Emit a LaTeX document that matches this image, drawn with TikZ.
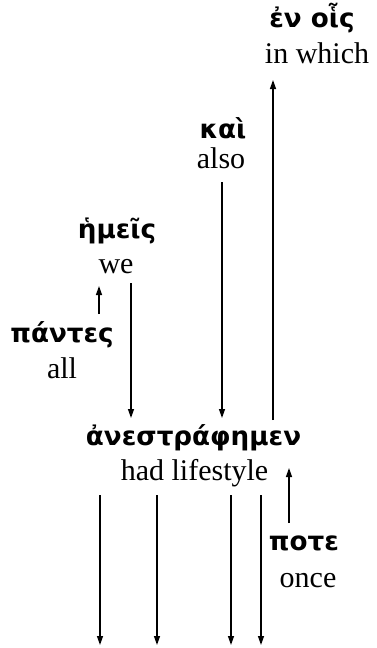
\documentclass[tikz,border=0pt]{standalone}
\usepackage{fontspec}
\setmainfont{Liberation Serif}
\newfontfamily\grfont[Script=Greek]{DejaVu Sans}
\usetikzlibrary{arrows.meta}
\begin{document}
\begin{tikzpicture}[x=1pt,y=1pt,
  gr/.style={inner sep=0pt, anchor=base, font=\grfont\bfseries\fontsize{26.2}{31}\selectfont},
  en/.style={inner sep=0pt, anchor=base, font=\fontsize{30}{36}\selectfont},
  arr/.style={line width=1.3pt, -{Triangle[length=9pt,width=6pt]}}]
\useasboundingbox (0,0) rectangle (376,-648);
% words
\node[gr] (enois) at (312,-27) {ἐν οἷς};
\node[en] (inwhich) at (317,-63) {in which};
\node[gr] (kai) at (223,-138) {καὶ};
\node[en] (also) at (221,-168) {also};
\node[gr] (hmeis) at (117,-238) {ἡμεῖς};
\node[en] (we) at (116,-273) {we};
\node[gr] (pantes) at (62,-342) {πάντες};
\node[en] (all) at (62,-378) {all};
\node[gr] (verb) at (193.5,-445) {ἀνεστράφημεν};
\node[en] (life) at (194.5,-480) {had lifestyle};
\node[gr] (pote) at (304,-550) {ποτε};
\node[en] (once) at (308,-587) {once};
% free ends
\coordinate (b1) at (100,-645);
\coordinate (b2) at (157,-645);
\coordinate (b3) at (231,-645);
\coordinate (b4) at (261,-645);
% connectors
\draw[arr] ([shift={(37,28)}]pantes.base) -- ([shift={(-17,-13)}]we.base);
\draw[arr] ([shift={(15,-10)}]we.base) -- ([shift={(-62.5,27)}]verb.base);
\draw[arr] ([shift={(1,-14)}]also.base) -- ([shift={(28.5,27)}]verb.base);
\draw[arr] ([shift={(79.5,25)}]verb.base) -- ([shift={(-44,-17)}]inwhich.base);
\draw[arr] ([shift={(-15,27)}]pote.base) -- ([shift={(95.5,-23)}]verb.base);
\draw[arr] ([shift={(-94.5,-15)}]life.base) -- (b1);
\draw[arr] ([shift={(-37.5,-15)}]life.base) -- (b2);
\draw[arr] ([shift={(36.5,-15)}]life.base) -- (b3);
\draw[arr] ([shift={(66.5,-15)}]life.base) -- (b4);
\end{tikzpicture}
\end{document}
